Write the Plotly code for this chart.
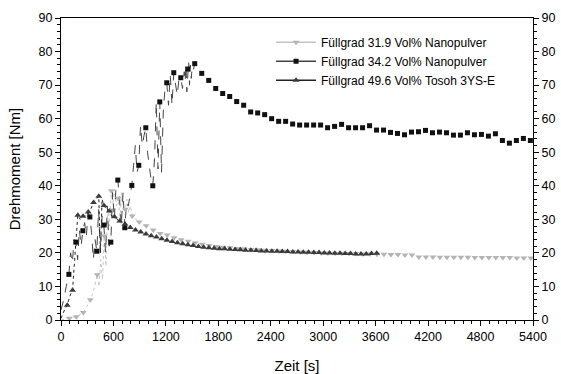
import plotly.graph_objects as go

# ---------------- data ----------------
# Füllgrad 31.9 Vol% Nanopulver (light grey, down triangles), one symbol every 80 s
gray_t = list(range(95, 5376, 80))
gray_v = [0.5, 1.0, 2.2, 6.0, 13.5, 25.0, 38.5, 36.3, 33.0, 31.0,
          29.2, 28.1, 26.8, 25.8, 25.3, 24.5, 23.9, 23.5, 23.0, 22.6,
          22.2, 21.9, 21.7, 21.5, 21.3, 21.2, 21.0, 20.9, 20.8, 20.7,
          20.6, 20.5, 20.4, 20.3, 20.2, 20.1, 20.0, 20.0, 19.9, 19.9,
          19.8, 19.8, 19.7, 19.7, 19.6, 19.6, 19.5, 19.5, 19.4, 19.4,
          18.8, 18.8, 18.8, 18.7, 18.7, 18.7, 18.7, 18.7, 18.6, 18.6,
          18.6, 18.6, 18.6, 18.6, 18.5, 18.5, 18.5]
# noisy start-up trace of the same measurement
gray_line_t = [0, 40, 95, 135, 175, 215, 255, 295, 335, 375, 415, 435, 455, 475, 495,
               515, 535, 555, 575, 595, 615, 635, 655, 675, 695, 715, 735, 755, 775,
               795, 815, 855, 895]
gray_line_v = [0.0, 0.3, 0.5, 0.8, 1.0, 1.5, 2.2, 4.0, 6.0, 9.0, 13.5, 10.0, 18.0, 12.0, 25.0,
               16.0, 33.0, 28.0, 38.5, 35.0, 39.0, 34.0, 36.3, 30.0, 38.0, 33.0, 33.0, 36.0, 32.0,
               34.0, 31.0, 30.0, 29.2]

# Füllgrad 34.2 Vol% Nanopulver (black squares), one symbol every 80 s
sq_t = list(range(90, 5371, 80))
sq_v = [13.6, 23.2, 26.6, 30.7, 20.5, 28.3, 23.2, 41.7, 27.5, 40.1,
        46.1, 57.3, 40.0, 65.0, 70.7, 73.7, 72.2, 74.8, 76.4, 73.5,
        71.4, 69.0, 67.5, 66.6, 65.1, 64.0, 62.0, 61.7, 61.2, 60.0,
        59.2, 59.2, 58.4, 58.1, 58.1, 58.1, 58.1, 57.3, 57.7, 58.3,
        57.3, 57.3, 57.3, 57.9, 56.6, 56.6, 55.9, 55.6, 55.2, 56.0,
        56.1, 56.5, 55.8, 56.0, 55.8, 55.1, 55.1, 55.8, 55.2, 55.3,
        54.8, 55.5, 53.5, 52.7, 53.5, 54.1, 53.5]
sq_line_t = [0, 30, 60, 90, 110, 130, 150, 170, 190, 210, 230, 250, 270, 290, 310, 330,
             350, 370, 390, 410, 430, 450, 470, 490, 510, 530, 550, 570, 590, 610, 630,
             650, 670, 690, 710, 730, 750, 770, 790, 810, 830, 850, 870, 890, 910, 930,
             950, 970, 990, 1010, 1030, 1050, 1070, 1090, 1110, 1130, 1150, 1170, 1190,
             1210, 1230, 1250, 1270, 1290, 1310, 1330, 1350, 1370, 1390, 1410, 1420, 1430,
             1440, 1450, 1460, 1470, 1480, 1490, 1500, 1510, 1530]
sq_line_v = [3, 6, 10, 13.6, 20, 17, 24, 23.2, 18, 27, 22, 26.6, 29, 25, 32, 30.7,
             26, 18, 24, 20.5, 33, 20, 31, 28.3, 20, 34, 22, 23.2, 38, 30, 40,
             41.7, 36, 28, 38, 27.5, 35, 34, 37, 40.1, 46, 52, 44, 46.1, 58, 52,
             55, 57.3, 50, 45, 42, 40.0, 48, 65, 45, 65.0, 44, 62, 69,
             70.7, 64, 73, 64, 73.7, 70, 67, 72, 72.2, 69, 74, 71, 76,
             68, 75, 77, 70, 76, 72, 75, 74, 76.4]

# Füllgrad 49.6 Vol% Tosoh 3YS-E (dark grey up triangles), one symbol every 60 s
tri_t = list(range(72, 3613, 60))
tri_v = [4.4, 8.9, 31.2, 30.9, 32.2, 35.0, 36.9, 34.1, 32.5, 30.8,
         29.5, 28.6, 27.6, 26.8, 26.2, 25.6, 25.1, 24.7, 24.2, 23.8,
         23.4, 23.0, 22.7, 22.4, 22.2, 21.9, 21.7, 21.5, 21.4, 21.2,
         21.2, 21.1, 21.0, 20.9, 20.8, 20.8, 20.7, 20.6, 20.6, 20.5,
         20.5, 20.4, 20.4, 20.3, 20.3, 20.2, 20.2, 20.1, 20.1, 20.0,
         20.0, 19.9, 19.9, 19.8, 19.8, 19.7, 19.7, 19.7, 19.8, 19.9]
tri_line_t = [0, 40, 72, 100, 132, 160, 192, 220, 252, 280, 312, 340, 372, 400, 432,
              450, 470, 492, 520, 552, 580, 612, 640, 672]
tri_line_v = [0.5, 3.0, 4.4, 7.0, 8.9, 20.0, 31.2, 30.0, 30.9, 31.0, 32.2, 33.0, 35.0, 36.0, 36.9,
              20.0, 36.0, 34.1, 33.0, 32.5, 31.0, 30.8, 30.0, 29.5]

names = ["Füllgrad 31.9 Vol% Nanopulver",
         "Füllgrad 34.2 Vol% Nanopulver",
         "Füllgrad 49.6 Vol% Tosoh 3YS-E"]

x_ticks = [0, 600, 1200, 1800, 2400, 3000, 3600, 4200, 4800, 5400]
y_ticks = [0, 10, 20, 30, 40, 50, 60, 70, 80, 90]

# ---------------- styles ----------------
c_gray_m, c_gray_l = "#b4b4b4", "#c4c4c4"
c_sq_m, c_sq_l = "#111111", "#444444"
c_tri_m, c_tri_l = "#3a3a3a", "#222222"

fig = go.Figure()

# start-up lines
fig.add_trace(go.Scatter(x=gray_line_t, y=gray_line_v, mode="lines",
                         line=dict(color=c_gray_l, width=1, dash="dot"), showlegend=False))
fig.add_trace(go.Scatter(x=sq_line_t, y=sq_line_v, mode="lines",
                         line=dict(color=c_sq_l, width=1, dash="dash"), showlegend=False))
fig.add_trace(go.Scatter(x=tri_line_t, y=tri_line_v, mode="lines",
                         line=dict(color=c_tri_l, width=1, dash="dot"), showlegend=False))

# symbols
fig.add_trace(go.Scatter(x=gray_t, y=gray_v, mode="markers", showlegend=False,
                         marker=dict(symbol="triangle-down", size=6, color=c_gray_m)))
fig.add_trace(go.Scatter(x=sq_t, y=sq_v, mode="markers", showlegend=False,
                         marker=dict(symbol="square", size=5, color=c_sq_m)))
fig.add_trace(go.Scatter(x=tri_t, y=tri_v, mode="markers", showlegend=False,
                         marker=dict(symbol="triangle-up", size=6, color=c_tri_m)))

# legend entries
for nm, lc, mc, sym, sz in [(names[0], c_gray_l, c_gray_m, "triangle-down", 6),
                            (names[1], c_sq_l, c_sq_m, "square", 5),
                            (names[2], c_tri_l, c_tri_m, "triangle-up", 6)]:
    fig.add_trace(go.Scatter(x=[None], y=[None], mode="lines+markers", name=nm,
                             line=dict(color=lc, width=1.5),
                             marker=dict(symbol=sym, size=sz, color=mc), yaxis="y2"))

font = "Liberation Sans, Arial, sans-serif"
axis_common = dict(showgrid=False, zeroline=False, showline=True, linecolor="black",
                   linewidth=1, ticks="outside", ticklen=5, tickwidth=1, tickcolor="black",
                   automargin=False,
                   tickfont=dict(family=font, size=12.5, color="black"))

fig.update_layout(
    width=561, height=374,
    margin=dict(l=61, r=28, t=18, b=54),
    paper_bgcolor="white", plot_bgcolor="white",
    font=dict(family=font, color="black"),
    xaxis=dict(range=[0, 5400], tickvals=x_ticks, ticktext=[str(v) for v in x_ticks],
               mirror=True,
               minor=dict(dtick=100, tick0=0, ticks="outside", ticklen=3, tickcolor="black"),
               title=dict(text="Zeit [s]", font=dict(family=font, size=15), standoff=18),
               **axis_common),
    yaxis=dict(range=[0, 90], tickvals=y_ticks, ticktext=[str(v) for v in y_ticks],
               mirror=True,
               minor=dict(dtick=2, tick0=0, ticks="outside", ticklen=3, tickcolor="black"),
               title=dict(text="Drehmoment [Nm]", font=dict(family=font, size=15), standoff=14),
               **axis_common),
    yaxis2=dict(range=[0, 90], tickvals=y_ticks, ticktext=[str(v) for v in y_ticks],
                overlaying="y", side="right", anchor="x",
                minor=dict(dtick=2, tick0=0, ticks="outside", ticklen=3, tickcolor="black"),
                **axis_common),
    legend=dict(x=0.445, y=0.968, xanchor="left", yanchor="top",
                bgcolor="rgba(0,0,0,0)", borderwidth=0,
                font=dict(family=font, size=12, color="black"),
                itemwidth=40, tracegroupgap=0),
    showlegend=True,
)

fig.write_html("out.html")
